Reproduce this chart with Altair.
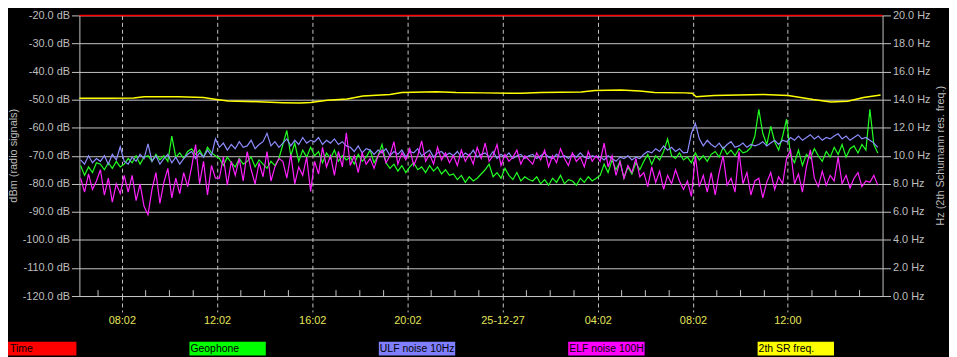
import altair as alt
import pandas as pd

# ---------------- data ----------------
start_min = 378          # minutes since 2025-12-26 00:00 (first sample)
step_min = 10            # sampling step in minutes

ulf = [
    -71.5, -73, -70, -72.5, -71,
    -72, -70, -73, -69.5, -71.5, -66.8, -72,
    -73, -70.5, -72, -69.5, -71,
    -65.8, -72, -70, -73, -71, -69.5, -72.5, -70.5, -73, -71, -69.5,
    -68.5, -71, -69, -70.5, -68, -70, -64,
    -67, -65.5, -68, -66, -67.5, -65, -67, -66.5, -64.5, -67.5, -66, -65, -62, -66.5, -65, -67,
    -65.5, -64, -66.5, -64.5, -66, -63.5, -65.5, -64.5,
    -65, -63.5, -66, -64.5, -65.5, -64, -66, -65, -66.5,
    -67, -68.5, -66.5, -69, -67.5, -68, -69.5, -68,
    -69, -67.5, -70, -68.5, -69.5, -68, -70.5, -68.5, -69, -67.5, -70, -69, -68, -70.5, -69, -68.5, -70, -69,
    -70, -68.5, -70.5, -69, -70, -68, -70.5, -69.5,
    -69, -70.5, -68.5, -71, -69.5, -70.5, -69, -71, -70, -69.5, -71, -70,
    -69.5, -71, -70, -69, -70.5, -71, -69.5, -70.5, -70, -71, -69.5, -70.5, -69, -70.5, -71, -70, -70.5,
    -70.5, -71.5, -70, -71, -72, -70.5, -71, -70, -71.5, -70.5, -71,
    -69.5, -68.5, -69, -67.5, -68.5, -66.5, -68, -67, -68.5, -67.5, -69,
    -68.8, -62, -58.5, -64, -66.5, -64.5, -66,
    -67, -65.5, -67.5, -66, -65, -67, -66.5, -65.5, -67, -66, -66.5,
    -66, -65, -66.5, -65.5, -64.5, -66, -64.5, -65,
    -63.5, -64.5, -63, -64.5, -63.5, -62.5, -64, -63, -64.5, -63.5, -64,
    -63, -62.2, -64, -63, -64.5, -63.5, -62.5, -64, -63.5,
    -64.5, -65.5, -67,
]

geo = [
    -73.5, -77, -74, -76, -72.5,
    -73, -75, -72.5, -74.5, -72, -74, -73,
    -71, -72.5, -70, -73, -70.5,
    -70, -72, -69.5, -71.5, -70, -72, -63, -70.5, -69, -71, -68.5,
    -67.5, -69.5, -68, -70.5, -67, -69, -70,
    -71, -73.5, -70.5, -72.5, -74, -71, -73, -72, -70.5, -74, -71.5, -73, -74.5, -72, -73.5, -71,
    -66, -61, -70, -65.5, -72, -68, -70.5, -67,
    -70, -68.5, -72.5, -69, -71, -68, -72, -70, -71.5,
    -70.5, -73, -69.5, -72, -70.5, -68, -72.5, -70,
    -66, -72.5, -74.5, -73, -75.5, -73.5, -76, -74, -72.5, -75, -74, -76, -73.5, -75.5, -74, -76.5, -75, -77,
    -76.5, -78.5, -77, -79.5, -77.5, -79, -78, -76.5,
    -75, -73, -77.5, -76, -78, -74.5, -77, -78.5, -76, -79, -77.5, -78.5,
    -79, -77.5, -80, -78.5, -80.5, -78, -79.5, -77, -80, -78.5, -79, -80.5, -78, -79.5, -77.5, -79, -78,
    -77, -73, -76, -71.5, -75, -72, -78, -74, -76.5, -72.5, -75,
    -72, -69.5, -73, -70, -71.5, -68.5, -64, -70, -71, -69, -71.5,
    -70.5, -72.5, -69, -71.5, -70, -72, -69.5,
    -68.5, -70.5, -67, -69.5, -68, -70, -67.5, -69, -68.5, -67, -63,
    -53.5, -62, -66, -59.5, -65, -68, -63, -57,
    -70, -72.5, -68, -73.5, -69.5, -71, -67.5, -70, -72, -68.5, -70.5,
    -67, -69.5, -66, -70.5, -67.5, -66.5, -69, -66, -68,
    -53.5, -66, -69,
]

elf = [
    -78, -83, -76.5, -82, -79,
    -75, -84, -78, -86.5, -80, -83.5, -77,
    -83, -77, -86, -80, -88,
    -91, -82, -76, -87, -79.5, -74.5, -85, -78, -83.5, -76, -81,
    -74, -66, -80, -72, -84, -73.5, -78,
    -78, -70.5, -80.5, -72, -77, -71, -79, -68.5, -75, -80, -72.5, -77.5, -68.5, -79, -74, -71,
    -72, -78, -69.5, -80, -74, -77, -70.5, -82.7,
    -72, -76.5, -67, -74, -70, -77, -68.5, -74, -61.8,
    -73.5, -70, -76, -69, -73, -71, -74.5, -70,
    -68, -72.5, -70, -65, -73, -69, -71.5, -67.5, -73.5, -70, -64.7, -72, -69.5, -73, -67, -71.5, -69, -72.5,
    -70, -73.5, -68, -72, -69.5, -73, -67, -71,
    -65.5, -72, -70, -66, -73.5, -69.5, -72, -70.5, -68, -73, -70, -71.5,
    -73, -69, -71.5, -68, -74, -70, -72.5, -67.5, -71, -73.5, -69, -72, -70.5, -74, -68.5, -72, -70,
    -72, -65.5, -74, -70, -77, -72, -78, -73.5, -76, -71, -77.5,
    -76, -81, -74, -79.5, -75.5, -82, -77, -80, -75, -79, -82,
    -79, -84.5, -70, -81, -77, -83, -76,
    -84, -76, -70, -80.5, -78, -83, -68.5, -80, -76, -84, -79,
    -78, -85, -79.5, -76, -82, -77.5, -80, -71,
    -68, -80, -76.5, -83, -74, -67.9, -78, -81, -75.5, -80.5, -77,
    -79, -70.5, -80, -77, -81.5, -78, -76, -81, -79,
    -79.5, -77, -80.5,
]

sr_min = [375, 450, 512, 538, 625, 688, 712, 750, 825, 888, 932, 958, 1000,
          1050, 1090, 1158, 1188, 1275, 1325, 1395, 1490, 1538, 1640, 1675,
          1740, 1788, 1825, 1902, 1920, 1930, 1975, 2100, 2162, 2225, 2270,
          2312, 2352, 2395]
sr_hz = [14.1, 14.1, 14.12, 14.2, 14.2, 14.15, 14.05, 13.9, 13.85, 13.78,
         13.75, 13.8, 13.95, 14.05, 14.25, 14.37, 14.5, 14.56, 14.5, 14.48,
         14.45, 14.5, 14.54, 14.65, 14.68, 14.62, 14.5, 14.48, 14.45, 14.2,
         14.3, 14.37, 14.3, 14.0, 13.83, 13.88, 14.15, 14.33]

major_min = [482, 722, 962, 1202, 1442, 1682, 1922, 2160]
major_lab = ["08:02", "12:02", "16:02", "20:02", "25-12-27", "04:02", "08:02", "12:00"]
minor_min = [422, 542, 602, 662, 782, 842, 902, 1022, 1082, 1142, 1262, 1322,
             1382, 1502, 1562, 1622, 1742, 1802, 1862, 1982, 2042, 2102, 2222,
             2282, 2342]
db_ticks = [-120, -110, -100, -90, -80, -70, -60, -50, -40, -30, -20]
hz_ticks = [0, 2, 4, 6, 8, 10, 12, 14, 16, 18, 20]

legend_names = ["Time", "Geophone", "ULF noise 10Hz", "ELF noise 100H", "2th SR freq."]
legend_colors = ["#ff0000", "#00ff00", "#8080ff", "#ff00ff", "#ffff00"]

# ---------------- styling ----------------
FONT = "Liberation Sans"
GRAY = "#bdbdbd"
GRID = "#c4c4c4"
X_DOMAIN = [375, 2400]


def series_df(vals):
    return pd.DataFrame({"t": [start_min + step_min * i for i in range(len(vals))], "v": vals})


lab_expr = ("[" + ",".join(f"'{s}'" for s in major_lab) + "][indexof(["
            + ",".join(str(m) for m in major_min) + "], datum.value)]")

x_axis = alt.Axis(values=major_min, labelExpr=lab_expr, grid=True, gridColor=GRID,
                  gridDash=[4, 3], gridWidth=1, tickSize=16, tickDash=[4, 3],
                  tickColor=GRID, domainColor=GRID, labelColor="#e4e45a",
                  labelFont=FONT, labelFontSize=11, labelPadding=3, title=None,
                  labelFlush=False)
x_scale = alt.Scale(domain=X_DOMAIN, nice=False, zero=False)

db_axis = alt.Axis(values=db_ticks, grid=True, gridColor=GRID, gridWidth=1,
                   labelExpr="(datum.value < 0 ? '-' : '') + format(abs(datum.value), '.1f') + ' dB'",
                   tickSize=8, tickColor=GRID, domainColor=GRID, labelColor=GRAY,
                   labelFont=FONT, labelFontSize=11, labelPadding=2,
                   title="dBm (radio signals)", titleColor=GRAY, titleFont=FONT,
                   titleFontSize=11, titleFontWeight="normal", titleAngle=270,
                   titleX=-66, titleY=141, titleBaseline="middle", titleAlign="center")
db_scale = alt.Scale(domain=[-120, -20], nice=False, zero=False)

hz_axis = alt.Axis(values=hz_ticks, grid=False, orient="right",
                   labelExpr="format(datum.value, '.1f') + ' Hz'",
                   tickSize=8, tickColor=GRID, domainColor=GRID, labelColor=GRAY,
                   labelFont=FONT, labelFontSize=11, labelPadding=2,
                   title="Hz (2th Schumann res. freq.)", titleColor=GRAY, titleFont=FONT,
                   titleFontSize=11, titleFontWeight="normal", titleAngle=270,
                   titleX=58, titleY=141, titleBaseline="middle", titleAlign="center")
hz_scale = alt.Scale(domain=[0, 20], nice=False, zero=False)


def line_layer(vals, color):
    return alt.Chart(series_df(vals)).mark_line(strokeWidth=1.2, color=color, interpolate="linear").encode(
        x=alt.X("t:Q", scale=x_scale, axis=x_axis),
        y=alt.Y("v:Q", scale=db_scale, axis=db_axis),
    )


top_rule = alt.Chart(pd.DataFrame({"t": [X_DOMAIN[0]]})).mark_rule(color="#ff0000", strokeWidth=1.5).encode(
    y=alt.datum(-20, scale=db_scale, axis=db_axis),
)

minor = alt.Chart(pd.DataFrame({"t": minor_min})).mark_rule(color=GRID, strokeWidth=1).encode(
    x=alt.X("t:Q", scale=x_scale, axis=x_axis),
    y=alt.datum(-120, scale=db_scale, axis=db_axis),
    y2=alt.datum(-117.9),
)

db_layers = alt.layer(
    minor,
    line_layer(geo, "#22ff22"),
    line_layer(ulf, "#8c8cff"),
    line_layer(elf, "#ff22ff"),
    top_rule,
)

sr = alt.Chart(pd.DataFrame({"t": sr_min, "v": sr_hz})).mark_line(strokeWidth=1.5, color="#ffff00").encode(
    x=alt.X("t:Q", scale=x_scale, axis=x_axis),
    y=alt.Y("v:Q", scale=hz_scale, axis=hz_axis),
)

main = alt.layer(db_layers, sr).resolve_scale(y="independent")

leg_df = pd.DataFrame({"name": legend_names, "li": list(range(len(legend_names)))})
leg_scale = alt.Scale(domain=[0, 5], range=[-80, 875], nice=False, zero=False)
leg_color = alt.Color("name:N", scale=alt.Scale(domain=legend_names, range=legend_colors), legend=None)

leg_rect = alt.Chart(leg_df).transform_calculate(le="datum.li + 77/191").mark_rect().encode(
    x=alt.X("li:Q", scale=leg_scale, axis=None), x2="le:Q",
    y=alt.value(329), y2=alt.value(343), color=leg_color,
)
leg_text = alt.Chart(leg_df).transform_calculate(tx="max(datum.li, 0.047)").mark_text(
    align="left", baseline="middle", dx=1, font=FONT, fontSize=10.5, color="#000000").encode(
    x=alt.X("tx:Q", scale=leg_scale, axis=None), y=alt.value(336.5), text="name:N",
)
legend = alt.layer(leg_rect, leg_text)

chart = alt.layer(main, legend).resolve_scale(x="independent", color="independent").properties(
    width=810, height=283,
    autosize=alt.AutoSizeParams(type="none"),
    padding={"left": 72, "top": 6, "right": 67, "bottom": 60},
).configure(background="#000000").configure_view(strokeWidth=0)

chart.save("out.html", embed_options={"renderer": "svg", "actions": False})
